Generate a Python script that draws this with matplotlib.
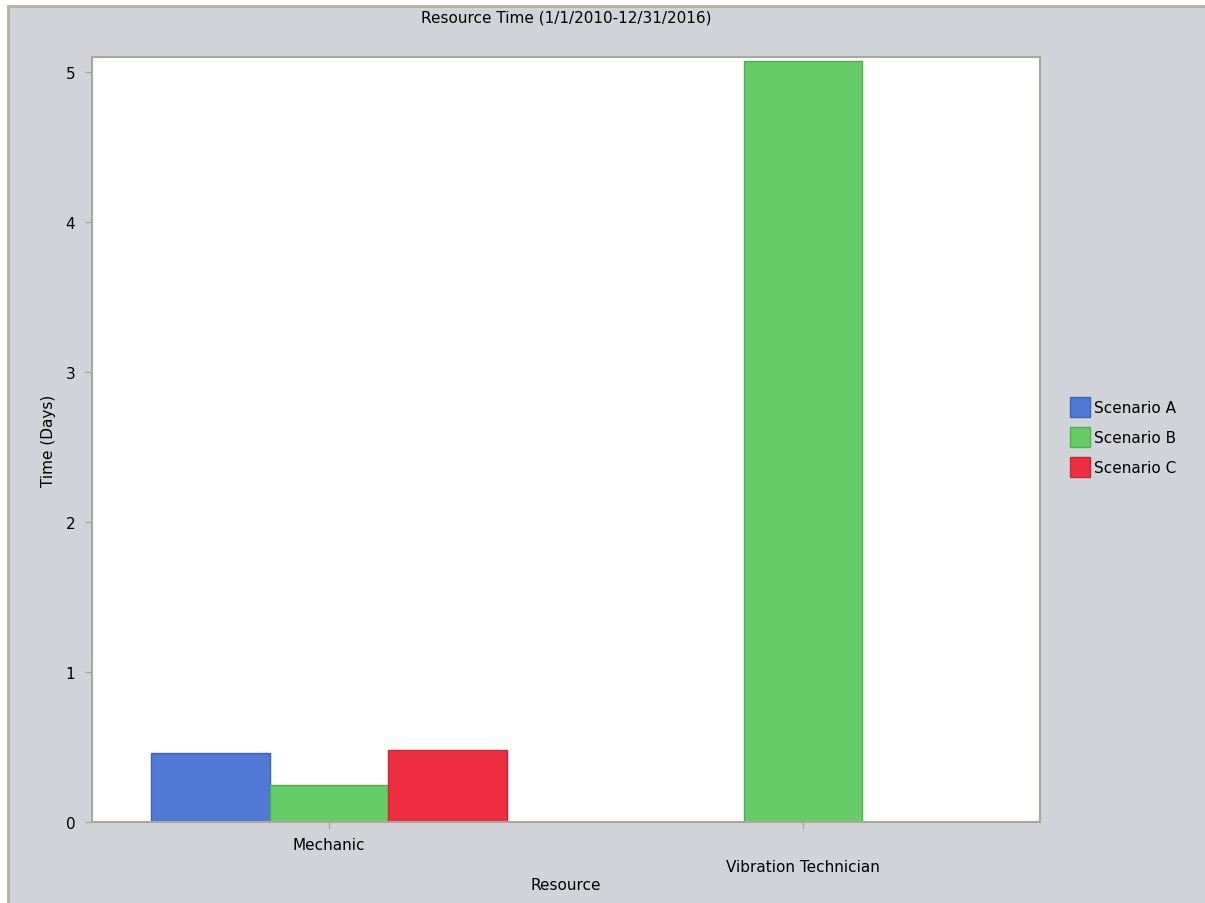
import numpy as np
import matplotlib
matplotlib.use("Agg")
import matplotlib.pyplot as plt
from matplotlib.patches import Rectangle
import matplotlib.transforms as mtransforms

categories = ["Mechanic", "Vibration Technician"]
series_names = ["Scenario A", "Scenario B", "Scenario C"]
scenario_a = [0.46, np.nan]
scenario_b = [0.25, 5.07]
scenario_c = [0.48, np.nan]
yticks = [0, 1, 2, 3, 4, 5]

title = "Resource Time (1/1/2010-12/31/2016)"
xlabel = "Resource"
ylabel = "Time (Days)"

face_colors = ["#5079D6", "#66CC66", "#EE2D40"]
edge_colors = ["#3F63B8", "#4FAE4F", "#C8283A"]
bg = "#D0D4D8"
spine_col = "#A9A89C"

W, H = 1205, 904
fig = plt.figure(figsize=(W / 100, H / 100), dpi=100, facecolor="white")
plt.rcParams["font.family"] = ["DejaVu Sans"]
FS = 11

# outer panel (border only on top and left, like the reference)
fig.patches.append(Rectangle((8 / W, -0.1), 1.2, 1.1 - 7 / H,
                             transform=fig.transFigure, facecolor=bg,
                             edgecolor="#B3B1A5", linewidth=2, zorder=-5,
                             clip_on=False))

ax_l, ax_r, ax_t, ax_b = 92, 1040, 58, 823
ax = fig.add_axes([ax_l / W, 1 - ax_b / H, (ax_r - ax_l) / W, (ax_b - ax_t) / H])
ax.set_facecolor("white")
ax.set_zorder(1)

x = np.arange(len(categories))
width = 0.25
for j, (vals, name) in enumerate(zip([scenario_a, scenario_b, scenario_c], series_names)):
    ax.bar(x + (j - 1) * width, vals, width=width, color=face_colors[j],
           edgecolor=edge_colors[j], linewidth=1, label=name, zorder=2)

ax.set_xlim(-0.5, 1.5)
ax.set_ylim(0, 5.1)
ax.set_yticks(yticks)
ax.set_yticklabels([str(t) for t in yticks], fontsize=FS)
ax.set_xticks(x)
ax.set_xticklabels([])

for s in ax.spines.values():
    s.set_color(spine_col)
    s.set_linewidth(1.5)
ax.tick_params(axis="both", colors=spine_col, length=5, width=1, labelcolor="black")
ax.tick_params(axis="y", pad=7)

# staggered category labels
trans = mtransforms.blended_transform_factory(ax.transData, ax.transAxes)
offsets_px = [22, 45]
for i, cat in enumerate(categories):
    ax.text(x[i], -offsets_px[i] / (ax_b - ax_t), cat, transform=trans,
            ha="center", va="center", fontsize=FS, color="black", clip_on=False)

fig.text((ax_l + ax_r) / 2 / W, 1 - 886 / H, xlabel, ha="center", va="center", fontsize=FS)
fig.text(48 / W, 1 - (ax_t + ax_b) / 2 / H, ylabel, ha="center", va="center",
         rotation=90, fontsize=FS)
fig.text((ax_l + ax_r) / 2 / W, 1 - 18 / H, title, ha="center", va="center", fontsize=FS)

fs_px = FS * 100 / 72
hh = (20 / fs_px - 0.245) / 0.65
leg = fig.legend(loc="center left", bbox_to_anchor=(1070 / W, 1 - 438 / H),
                 bbox_transform=fig.transFigure, frameon=False, fontsize=FS,
                 handlelength=20 / fs_px, handleheight=hh,
                 labelspacing=10 / fs_px, handletextpad=4 / fs_px,
                 borderpad=0, borderaxespad=0)

fig.savefig("out.png", dpi=100, facecolor="white")
